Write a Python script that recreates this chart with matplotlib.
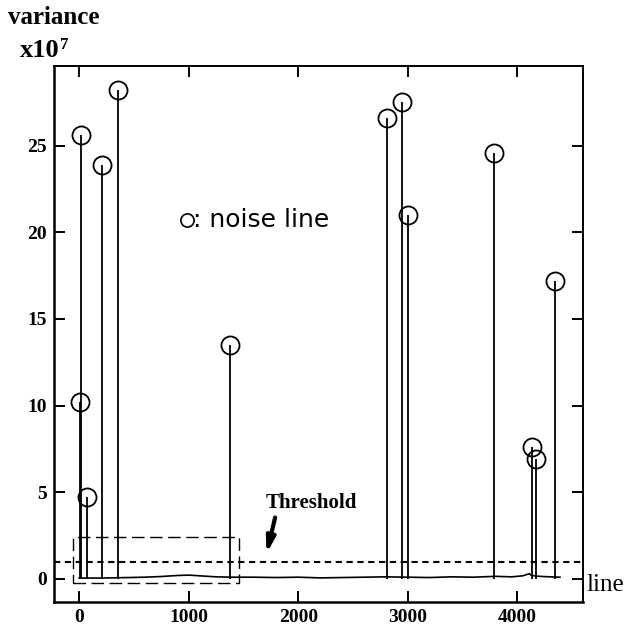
"""Variance per scan line with detected noise lines."""

import matplotlib.pyplot as plt
from matplotlib.patches import Rectangle

# noise lines: scan line index and variance (x1e7)
noise_lines = [3, 15, 76, 207, 356, 1375, 2810, 2950, 3005, 3790, 4130, 4172, 4343]
noise_vars = [10.2, 25.6, 4.7, 23.9, 28.2, 13.5, 26.6, 27.5, 21.0, 24.6, 7.6, 6.9, 17.2]

# variance of ordinary lines (background trace)
base_lines = [0, 150, 300, 450, 600, 750, 900, 1000, 1100, 1250, 1400, 1600, 1800,
              2000, 2200, 2400, 2600, 2800, 3000, 3200, 3400, 3600, 3800, 3950,
              4050, 4110, 4130, 4200, 4300, 4390]
base_vars = [0.05, 0.05, 0.06, 0.08, 0.1, 0.14, 0.2, 0.22, 0.18, 0.12, 0.1, 0.1, 0.08,
             0.1, 0.06, 0.08, 0.1, 0.12, 0.1, 0.08, 0.12, 0.1, 0.15, 0.12,
             0.18, 0.3, 0.2, 0.15, 0.12, 0.1]

threshold = 1.0
xticks = [0, 1000, 2000, 3000, 4000]
yticks = [0, 5, 10, 15, 20, 25]

serif = 'Liberation Serif'

fig = plt.figure(figsize=(6.27, 6.31), dpi=100)
ax = fig.add_axes([0.0861, 0.046, 0.8437, 0.8494])

ax.plot(base_lines, base_vars, color='black', linewidth=1.2)
ax.vlines(noise_lines, 0, noise_vars, color='black', linewidth=1.3)
ax.plot(noise_lines, noise_vars, linestyle='none', marker='o', markersize=13,
        markerfacecolor='none', markeredgecolor='black', markeredgewidth=1.3)

ax.axhline(threshold, color='black', linestyle=(0, (3, 2.2)), linewidth=1.5)

# region of ordinary lines near the start
ax.add_patch(Rectangle((-55, -0.23), 1515, 2.65, fill=False, edgecolor='black',
                       linestyle=(0, (9, 4)), linewidth=1.0))

ax.annotate('', xy=(1705, 1.3), xytext=(1795, 3.7),
            arrowprops=dict(arrowstyle='-|>,head_length=0.9,head_width=0.25',
                            color='black', linewidth=3))
ax.text(1705, 4.4, 'Threshold', family=serif, fontweight='bold', fontsize=15,
        va='center', ha='left')

# legend key for the circles
ax.plot([0.251], [0.713], transform=ax.transAxes, marker='o', markersize=9.5,
        markerfacecolor='none', markeredgecolor='black', markeredgewidth=1.2,
        clip_on=False)
ax.text(0.262, 0.713, ': noise line', transform=ax.transAxes,
        family='DejaVu Sans', fontsize=18, va='center', ha='left')

ax.set_xlim(-230, 4600)
ax.set_ylim(-1.33, 29.6)
ax.set_xticks(xticks)
ax.set_yticks(yticks)
ax.set_xticklabels([str(t) for t in xticks], family=serif, fontweight='bold', fontsize=14)
ax.set_yticklabels([str(t) for t in yticks], family=serif, fontweight='bold', fontsize=14)
ax.tick_params(direction='in', length=8, width=1.4, top=True, right=True, pad=5)

for side in ['left', 'bottom']:
    ax.spines[side].set_linewidth(1.8)
for side in ['right', 'top']:
    ax.spines[side].set_linewidth(1.4)

fig.text(0.013, 0.972, 'variance', family=serif, fontweight='bold', fontsize=18,
         ha='left', va='center')
fig.text(0.031, 0.92, 'x10', family=serif, fontweight='bold', fontsize=19,
         ha='left', va='center')
fig.text(0.096, 0.928, '7', family=serif, fontweight='bold', fontsize=12,
         ha='left', va='center')
fig.text(0.935, 0.073, 'line', family=serif, fontsize=18, ha='left', va='center')

fig.savefig('out.png', dpi=100)
